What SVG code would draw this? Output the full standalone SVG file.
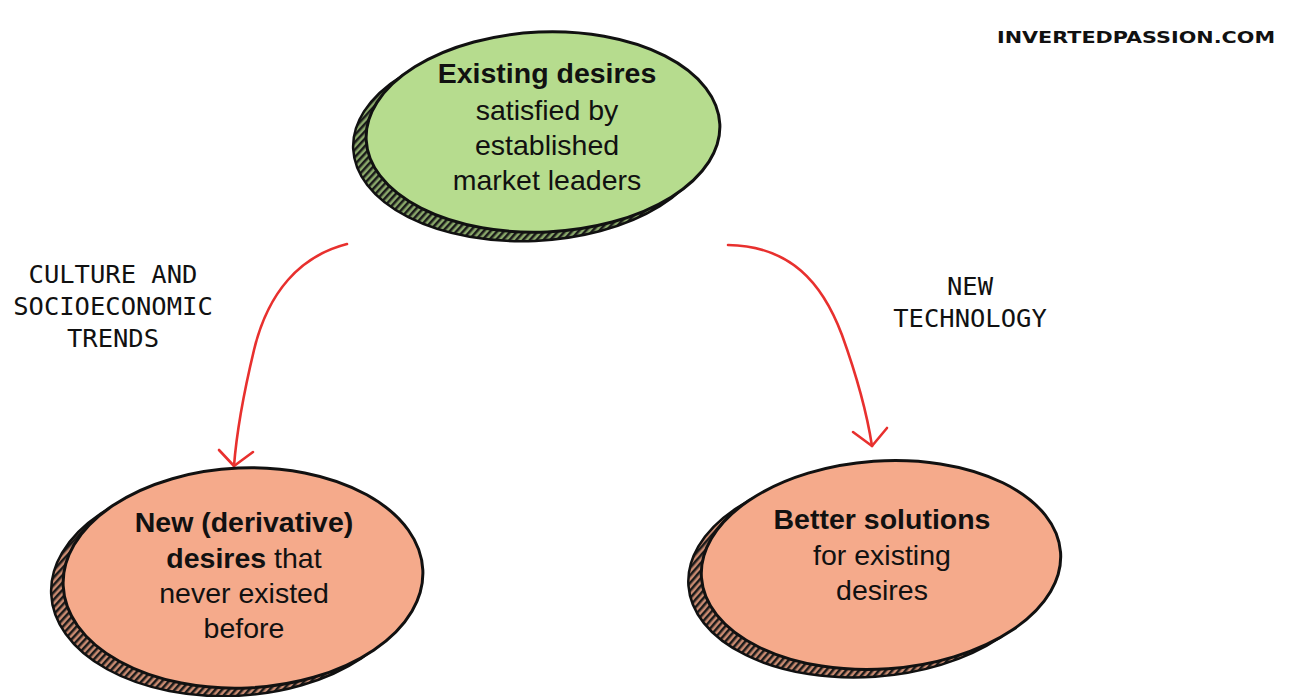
<svg xmlns="http://www.w3.org/2000/svg" width="1293" height="697" viewBox="0 0 1293 697">
<style>
.node-text{font-family:"Liberation Sans",Arial,sans-serif;font-size:28.5px;fill:#111;text-anchor:middle}
.b{font-weight:bold}
.lbl{font-family:"DejaVu Sans Mono","Liberation Mono",monospace;font-size:25.5px;fill:#111;text-anchor:middle}
.main{stroke:#111;stroke-width:3}
.shadow{stroke:#111;stroke-width:2.5}
.conn{fill:none;stroke:#e8302e;stroke-width:2.6;stroke-linecap:round;stroke-linejoin:round}
</style>
<defs>
<pattern id="hatchG" width="5" height="5" patternUnits="userSpaceOnUse" patternTransform="rotate(45)">
<rect width="5" height="5" fill="#8aa86a"/>
<rect width="2.5" height="5" fill="#1a1a1a"/>
</pattern>
<pattern id="hatchS" width="5" height="5" patternUnits="userSpaceOnUse" patternTransform="rotate(45)">
<rect width="5" height="5" fill="#c98a70"/>
<rect width="2.5" height="5" fill="#1a1a1a"/>
</pattern>
</defs>
<rect width="1293" height="697" fill="#ffffff"/>
<text x="997" y="43" textLength="278" lengthAdjust="spacingAndGlyphs" style="font-family:'DejaVu Sans',Verdana,sans-serif;font-weight:bold;font-size:16px;fill:#111">INVERTEDPASSION.COM</text>

<g id="connectors">
<path class="conn" d="M347,244 C300,256 268,292 254,350 C242,400 236,440 234,466"/>
<path class="conn" d="M219,450 L234,466 L253,452"/>
<path class="conn" d="M728,245 C790,246 822,282 842,335 C860,385 868,420 872,446"/>
<path class="conn" d="M853,432 L872,446 L887,428"/>
</g>

<g id="label-culture">
<text class="lbl" x="113" y="283">CULTURE AND</text>
<text class="lbl" x="113" y="315">SOCIOECONOMIC</text>
<text class="lbl" x="113" y="347">TRENDS</text>
</g>
<g id="label-tech">
<text class="lbl" x="970" y="295">NEW</text>
<text class="lbl" x="970" y="327">TECHNOLOGY</text>
</g>

<g id="node-existing">
<ellipse class="shadow" cx="531" cy="141" rx="178" ry="100" transform="rotate(-2.5 531 141)" fill="url(#hatchG)"/>
<ellipse class="main" cx="543" cy="132" rx="177" ry="100" transform="rotate(-2.5 543 132)" fill="#b6dc8e"/>
<text class="node-text b" x="547" y="83">Existing desires</text>
<text class="node-text" x="547" y="120">satisfied by</text>
<text class="node-text" x="547" y="155">established</text>
<text class="node-text" x="547" y="190">market leaders</text>
</g>

<g id="node-new">
<ellipse class="shadow" cx="231" cy="586" rx="180" ry="110" transform="rotate(-2.5 231 586)" fill="url(#hatchS)"/>
<ellipse class="main" cx="243" cy="578" rx="180" ry="110" transform="rotate(-2.5 243 578)" fill="#f5aa8b"/>
<text class="node-text" x="244" y="532"><tspan class="b">New (derivative)</tspan></text>
<text class="node-text" x="244" y="568"><tspan class="b">desires</tspan> that</text>
<text class="node-text" x="244" y="603">never existed</text>
<text class="node-text" x="244" y="638">before</text>
</g>

<g id="node-better">
<ellipse class="shadow" cx="868" cy="573" rx="180" ry="104" transform="rotate(-4 868 573)" fill="url(#hatchS)"/>
<ellipse class="main" cx="881" cy="565" rx="180" ry="104" transform="rotate(-4 881 565)" fill="#f5aa8b"/>
<text class="node-text b" x="882" y="529">Better solutions</text>
<text class="node-text" x="882" y="565">for existing</text>
<text class="node-text" x="882" y="600">desires</text>
</g>
</svg>
